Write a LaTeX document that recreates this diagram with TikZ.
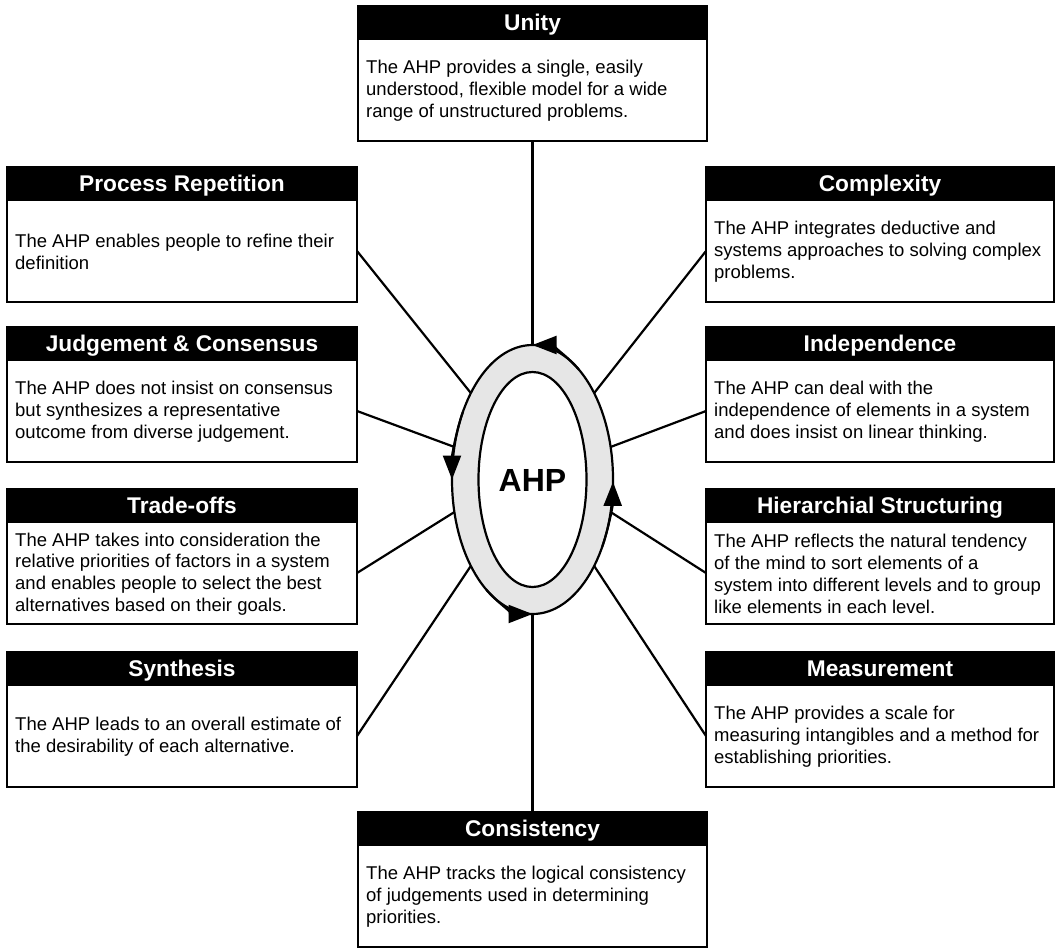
\documentclass[tikz,border=0pt]{standalone}
\usepackage{fontspec}
\setmainfont{Liberation Sans}
\usetikzlibrary{arrows.meta,calc}
\definecolor{ringgray}{RGB}{230,230,230}
\tikzset{
  hdr/.style={fill=black, draw=black, line width=2pt, text=white,
    font=\fontsize{22.7}{26}\selectfont\bfseries, minimum height=33pt,
    text height=16.3pt, text depth=0pt, inner sep=0pt, outer sep=0pt, anchor=north west},
  frame/.style={draw=black, line width=2pt, fill=white, minimum height=102pt,
    inner sep=0pt, outer sep=0pt, anchor=north west},
  bodytext/.style={anchor=west, align=left, inner sep=0pt,
    font=\fontsize{18.5}{21.8}\selectfont},
  conn/.style={draw=black, line width=2.2pt},
  ringline/.style={line width=2.2pt},
  cyc/.style={line width=2.2pt, -{Triangle[length=24pt,width=18pt]}}
}
\newcommand\ahpbox[6]{%
  \node[hdr, minimum width=#4pt] (#1h) at (#2,-#3) {#5};
  \node[frame, minimum width=#4pt] (#1b) at (#1h.south west) {};
  \node[bodytext] (#1t) at ($(#1b.west)+(8,-1)$) {#6};
}
\begin{document}
\begin{tikzpicture}[x=1pt,y=1pt]
\useasboundingbox (0,0) rectangle (1062,-951);
% centre of the cycle
\coordinate (C) at (532.5,-479.5);
\foreach \a in {90,140,166,194,220,270,320,346,14,40}{
  \coordinate (e\a) at ($(C)+(\a:80.5 and 134.5)$);
}
% boxes
\ahpbox{un}{358}{6}{349}{Unity}{The AHP provides a single, easily\\understood, flexible model for a wide\\range of unstructured problems.}
\ahpbox{pr}{7}{167}{350}{Process Repetition}{The AHP enables people to refine their\\definition}
\ahpbox{cx}{706}{167}{348}{Complexity}{The AHP integrates deductive and\\systems approaches to solving complex\\problems.}
\ahpbox{jc}{7}{327}{350}{Judgement \& Consensus}{The AHP does not insist on consensus\\but synthesizes a representative\\outcome from diverse judgement.}
\ahpbox{ind}{706}{327}{348}{Independence}{The AHP can deal with the\\independence of elements in a system\\and does insist on linear thinking.}
\ahpbox{to}{7}{489}{350}{Trade-offs}{The AHP takes into consideration the\\relative priorities of factors in a system\\and enables people to select the best\\alternatives based on their goals.}
\ahpbox{hs}{706}{489}{348}{Hierarchial Structuring}{The AHP reflects the natural tendency\\of the mind to sort elements of a\\system into different levels and to group\\like elements in each level.}
\ahpbox{syn}{7}{652}{350}{Synthesis}{The AHP leads to an overall estimate of\\the desirability of each alternative.}
\ahpbox{meas}{706}{652}{348}{Measurement}{The AHP provides a scale for\\measuring intangibles and a method for\\establishing priorities.}
\ahpbox{con}{358}{812}{349}{Consistency}{The AHP tracks the logical consistency\\of judgements used in determining\\priorities.}
% connectors
\draw[conn] (unb.south) -- (e90);
\draw[conn] (conh.north) -- (e270);
\draw[conn] (prb.east) -- (e140);
\draw[conn] (cxb.west) -- (e40);
\draw[conn] (jcb.east) -- (e166);
\draw[conn] (indb.west) -- (e14);
\draw[conn] (tob.east) -- (e194);
\draw[conn] (hsb.west) -- (e346);
\draw[conn] (synb.east) -- (e220);
\draw[conn] (measb.west) -- (e320);
% ring
\filldraw[ringline, fill=ringgray] (C) ellipse [x radius=80.5, y radius=134.5];
\filldraw[ringline, fill=white] (C) ellipse [x radius=54, y radius=107.5];
\node[font=\fontsize{32}{36}\selectfont\bfseries, text height=23pt, text depth=0pt, inner sep=0pt] (ahp) at (C) {AHP};
% cycle arrows
\draw[cyc] ($(C)+(55:80.5 and 134.5)$) arc[start angle=55, end angle=90, x radius=80.5, y radius=134.5];
\draw[cyc] ($(C)+(150:80.5 and 134.5)$) arc[start angle=150, end angle=180, x radius=80.5, y radius=134.5];
\draw[cyc] ($(C)+(235:80.5 and 134.5)$) arc[start angle=235, end angle=270, x radius=80.5, y radius=134.5];
\draw[cyc] ($(C)+(330:80.5 and 134.5)$) arc[start angle=330, end angle=359, x radius=80.5, y radius=134.5];
\end{tikzpicture}
\end{document}
